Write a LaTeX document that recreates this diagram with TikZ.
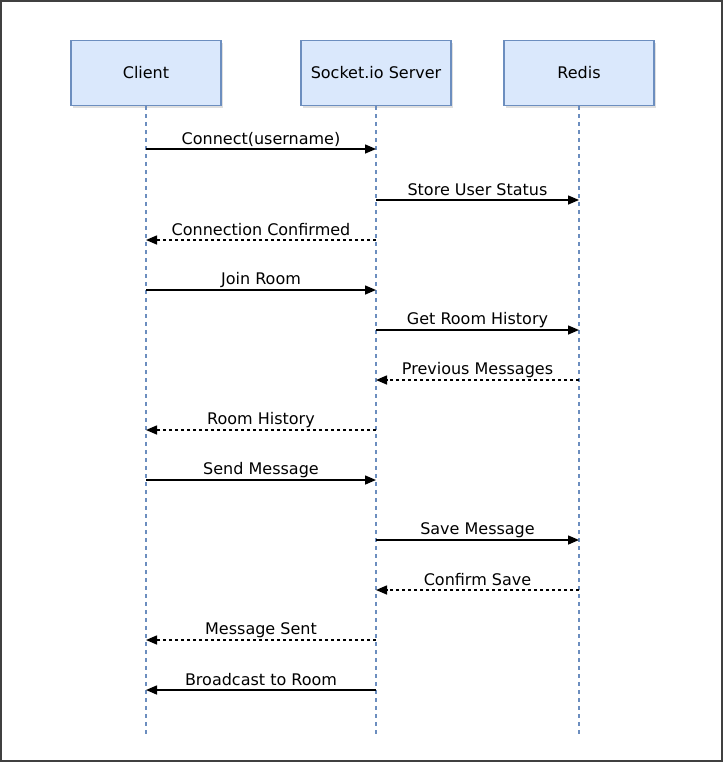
\documentclass[tikz,border=0pt]{standalone}
\usepackage{fontspec}
\setmainfont{DejaVu Sans}
\usetikzlibrary{arrows.meta,shadows}
\definecolor{boxfill}{HTML}{DAE8FC}
\definecolor{boxline}{HTML}{6C8EBF}
\begin{document}
\begin{tikzpicture}[x=1pt,y=-1pt,
  actor/.style={draw=boxline,fill=boxfill,line width=1.4pt,minimum width=150pt,minimum height=65pt,inner sep=0pt,
    font=\fontsize{16}{19}\selectfont,
    drop shadow={shadow xshift=2pt,shadow yshift=-2pt,opacity=0.25}},
  lifeline/.style={draw=boxline,line width=1.4pt,dash pattern=on 4pt off 4pt},
  msg/.style={line width=1.5pt,-{Triangle[length=11pt,width=9pt]}},
  reply/.style={msg,dash pattern=on 3pt off 3pt},
  lbl/.style={fill=white,inner sep=1pt,yshift=10pt,font=\fontsize{16}{19}\selectfont}
]
\useasboundingbox (0,0) rectangle (723,763);
\draw[black!75,line width=2pt] (1,1) rectangle (722,761);

\node[actor] (client) at (146,73) {Client};
\node[actor] (server) at (376,73) {Socket.io Server};
\node[actor] (redis) at (579,73) {Redis};

\coordinate (cend) at (146,738);
\coordinate (send) at (376,738);
\coordinate (rend) at (579,738);
\draw[lifeline] (client.south) -- (cend);
\draw[lifeline] (server.south) -- (send);
\draw[lifeline] (redis.south) -- (rend);

\foreach \n/\y in {1/149,2/200,3/240,4/290,5/330,6/380,7/430,8/480,9/540,10/590,11/640,12/690}{
  \coordinate (c\n) at (146,\y);
  \coordinate (s\n) at (376,\y);
  \coordinate (r\n) at (579,\y);
}

\draw[msg] (c1) -- node[lbl] (m1) {Connect(username)} (s1);
\draw[msg] (s2) -- node[lbl] (m2) {Store User Status} (r2);
\draw[reply] (s3) -- node[lbl] (m3) {Connection Confirmed} (c3);
\draw[msg] (c4) -- node[lbl] (m4) {Join Room} (s4);
\draw[msg] (s5) -- node[lbl] (m5) {Get Room History} (r5);
\draw[reply] (r6) -- node[lbl] (m6) {Previous Messages} (s6);
\draw[reply] (s7) -- node[lbl] (m7) {Room History} (c7);
\draw[msg] (c8) -- node[lbl] (m8) {Send Message} (s8);
\draw[msg] (s9) -- node[lbl] (m9) {Save Message} (r9);
\draw[reply] (r10) -- node[lbl] (m10) {Confirm Save} (s10);
\draw[reply] (s11) -- node[lbl] (m11) {Message Sent} (c11);
\draw[msg] (s12) -- node[lbl] (m12) {Broadcast to Room} (c12);
\end{tikzpicture}
\end{document}
